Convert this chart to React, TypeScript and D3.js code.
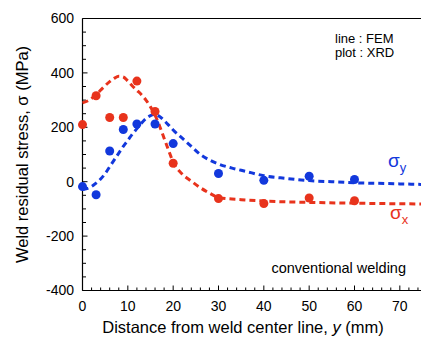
import React from 'react';
import * as d3 from 'd3';

// XRD measurements
const xrdPos = [0, 3, 6, 9, 12, 16, 20, 30, 40, 50, 60];
const xrdSigmaX = [210, 316, 236, 236, 370, 258, 68, -62, -80, -60, -70];
const xrdSigmaY = [-18, -48, 113, 192, 212, 212, 140, 30, 5, 20, 8];

// FEM curves
const femPosX = [0, 1.5, 3, 4.5, 6, 7, 8, 9, 10, 11, 12, 13, 14, 15, 16, 17, 18, 19, 20, 22, 24, 26, 28, 30, 35, 40, 50, 60, 75];
const femSigmaX = [290, 300, 320, 345, 368, 380, 388, 385, 370, 352, 336, 320, 300, 275, 245, 205, 160, 115, 72, 28, 2, -22, -42, -58, -66, -71, -76, -79, -82];
const femPosY = [0, 1, 2, 3, 4, 5, 6, 7, 8, 9, 10, 11, 12, 13, 14, 15, 16, 17, 18, 19, 20, 22, 24, 26, 28, 30, 33, 36, 40, 45, 50, 55, 60, 65, 70, 75];
const femSigmaY = [-28, -25, -18, -5, 10, 30, 55, 80, 105, 130, 152, 175, 195, 215, 232, 243, 247, 240, 225, 208, 190, 160, 130, 100, 80, 65, 50, 38, 22, 12, 4, 0, -4, -6, -8, -10];

const xTicks = [0, 10, 20, 30, 40, 50, 60, 70];
const yTicks = [-400, -200, 0, 200, 400, 600];

const RED = '#e8331c';
const BLUE = '#1238dc';

export default function App() {
  const width = 421;
  const height = 341;
  const x = d3.scaleLinear().domain([0, 75]).range([82.5, 422.5]);
  const y = d3.scaleLinear().domain([-400, 600]).range([290.5, 18.5]);

  const line = d3
    .line<[number, number]>()
    .x((d) => x(d[0]))
    .y((d) => y(d[1]))
    .curve(d3.curveMonotoneX);

  const redPath = line(femPosX.map((p, i) => [p, femSigmaX[i]]) as [number, number][]) || '';
  const bluePath = line(femPosY.map((p, i) => [p, femSigmaY[i]]) as [number, number][]) || '';

  const xMinor = d3.range(0, 76, 2).filter((v) => v % 10 !== 0);
  const yMinor = d3.range(-400, 601, 50).filter((v) => v % 200 !== 0);
  const font = 'Liberation Sans, Arial, Helvetica, sans-serif';

  return (
    <svg
      width={width}
      height={height}
      style={{ position: 'absolute', left: 0, top: 0, background: '#fff' }}
      fontFamily={font}
    >
      {/* frame */}
      <line x1={x(0)} x2={width} y1={y(600)} y2={y(600)} stroke="#000" strokeWidth={1.2} />
      <line x1={x(0)} x2={width} y1={y(-400)} y2={y(-400)} stroke="#000" strokeWidth={1.2} />
      <line x1={x(0)} x2={x(0)} y1={y(600)} y2={y(-400)} stroke="#000" strokeWidth={1.2} />

      {/* y ticks */}
      {yTicks.map((t) => (
        <g key={'yt' + t}>
          <line x1={x(0)} x2={x(0) + 5} y1={y(t)} y2={y(t)} stroke="#000" strokeWidth={1} />
          <text x={74} y={y(t)} dy="0.35em" textAnchor="end" fontSize={14}>
            {t}
          </text>
        </g>
      ))}
      {yMinor.map((t) => (
        <line key={'ym' + t} x1={x(0)} x2={x(0) + 3.5} y1={y(t)} y2={y(t)} stroke="#000" strokeWidth={1} />
      ))}

      {/* x ticks */}
      {xTicks.map((t) => (
        <g key={'xt' + t}>
          <line x1={x(t)} x2={x(t)} y1={y(-400)} y2={y(-400) - 5} stroke="#000" strokeWidth={1} />
          <text x={x(t)} y={306} dy="0.35em" textAnchor="middle" fontSize={14}>
            {t}
          </text>
        </g>
      ))}
      {xMinor.map((t) => (
        <line key={'xm' + t} x1={x(t)} x2={x(t)} y1={y(-400)} y2={y(-400) - 3} stroke="#000" strokeWidth={1} />
      ))}

      {/* FEM lines */}
      <path d={redPath} fill="none" stroke={RED} strokeWidth={3} strokeDasharray="6,4" />
      <path d={bluePath} fill="none" stroke={BLUE} strokeWidth={3} strokeDasharray="6,4" />

      {/* XRD points */}
      {xrdPos.map((p, i) => (
        <circle key={'r' + i} cx={x(p)} cy={y(xrdSigmaX[i])} r={4.5} fill={RED} />
      ))}
      {xrdPos.map((p, i) => (
        <circle key={'b' + i} cx={x(p)} cy={y(xrdSigmaY[i])} r={4.5} fill={BLUE} />
      ))}

      {/* annotations */}
      <text x={335} y={43} fontSize={13}>line : FEM</text>
      <text x={335} y={57} fontSize={13}>plot : XRD</text>
      <text x={406} y={273} textAnchor="end" fontSize={14.5}>conventional welding</text>

      <text x={388} y={167} fill={BLUE} fontSize={19}>
        σ<tspan fontSize={13} dy={5}>y</tspan>
      </text>
      <text x={390} y={219} fill={RED} fontSize={19}>
        σ<tspan fontSize={13} dy={5}>x</tspan>
      </text>

      {/* axis titles */}
      <text x={243} y={333} textAnchor="middle" fontSize={16.5}>
        Distance from weld center line, <tspan fontStyle="italic">y</tspan> (mm)
      </text>
      <text
        transform={`translate(28, ${(y(600) + y(-400)) / 2}) rotate(-90)`}
        textAnchor="middle"
        fontSize={16.5}
      >
        Weld residual stress, σ (MPa)
      </text>
    </svg>
  );
}
